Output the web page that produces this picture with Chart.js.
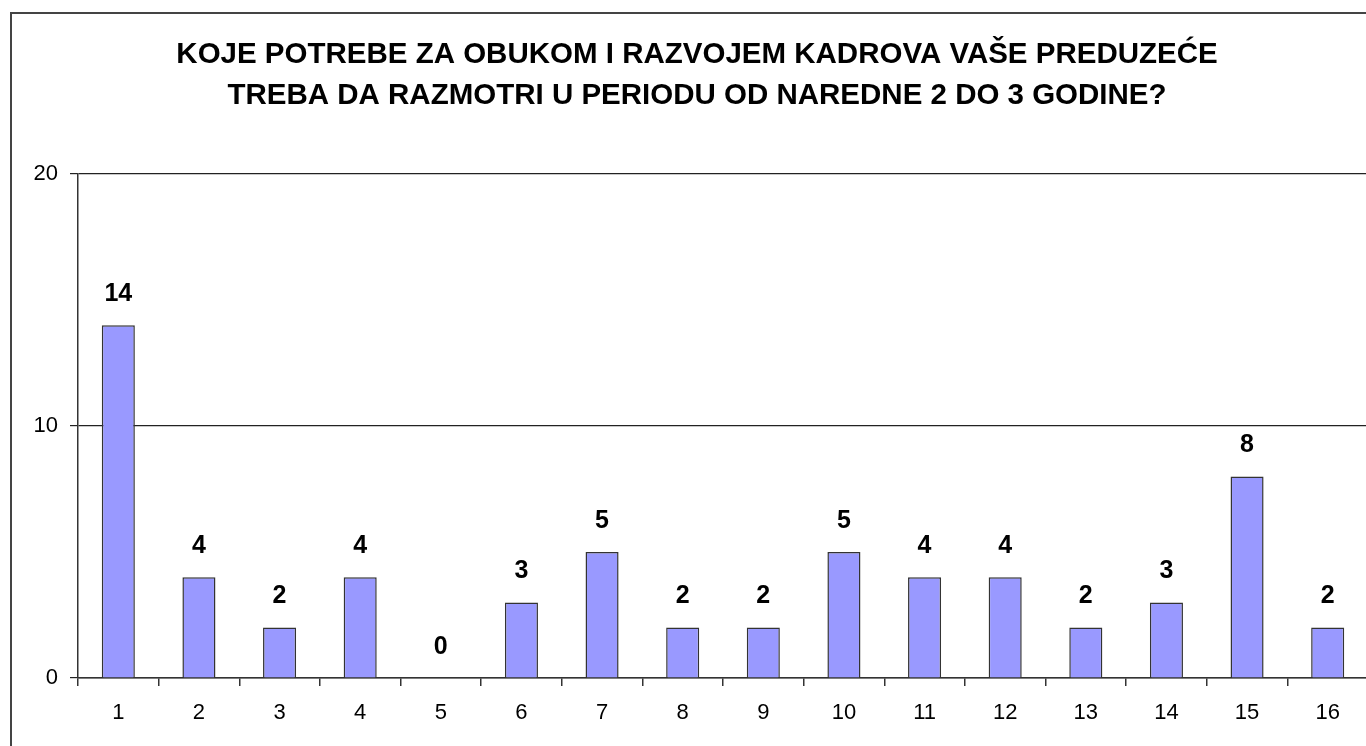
<!DOCTYPE html>
<html>
<head>
<meta charset="utf-8">
<script src="https://cdn.jsdelivr.net/npm/chart.js@4.4.0/dist/chart.umd.min.js"></script>
<style>
  html, body { margin: 0; padding: 0; background: #fff; overflow: hidden; }
  #frame { position: absolute; left: 10px; top: 12px; width: 1500px; height: 900px;
           border-left: 2px solid #444; border-top: 2px solid #444; }
  #wrap { position: absolute; left: 0; top: 0; width: 1394px; height: 746px; }
</style>
</head>
<body>
<div id="frame"></div>
<div id="wrap"><canvas id="myChart" width="1394" height="746"></canvas></div>
<script>
// values
var categories = ['1','2','3','4','5','6','7','8','9','10','11','12','13','14','15','16'];
var answers = [14, 4, 2, 4, 0, 3, 5, 2, 2, 5, 4, 4, 2, 3, 8, 2];
var yTicks = [0, 10, 20];
var titleLines = ['KOJE POTREBE ZA OBUKOM I RAZVOJEM KADROVA VAŠE PREDUZEĆE',
                  'TREBA DA RAZMOTRI U PERIODU OD NAREDNE 2 DO 3 GODINE?'];

// numbers above the bars
var valueLabels = {
  id: 'valueLabels',
  afterDatasetsDraw: function(chart) {
    var ctx = chart.ctx;
    var meta = chart.getDatasetMeta(0);
    ctx.save();
    ctx.font = 'bold 25px "Liberation Sans", Arial, sans-serif';
    ctx.fillStyle = '#000';
    ctx.textAlign = 'center';
    ctx.textBaseline = 'middle';
    meta.data.forEach(function(bar, i) {
      ctx.fillText(String(answers[i]), bar.x, bar.y - 31);
    });
    ctx.restore();
  }
};

var ctx = document.getElementById('myChart').getContext('2d');
myChart = new Chart(ctx, {
  type: 'bar',
  data: {
    labels: categories,
    datasets: [{
      data: answers,
      backgroundColor: '#9999FF',
      borderColor: '#333',
      borderWidth: 1.5,
      barPercentage: 0.41,
      categoryPercentage: 1
    }]
  },
  options: {
    responsive: false,
    animation: false,
    devicePixelRatio: 1,
    layout: { padding: { left: 26, right: 26, top: 0, bottom: 0 } },
    plugins: {
      legend: { display: false },
      tooltip: { enabled: false },
      title: {
        display: true,
        text: titleLines,
        color: '#000',
        font: { family: '"Liberation Sans", Arial, sans-serif', size: 29.5, weight: 'bold', lineHeight: 1.39 },
        padding: { top: 34, bottom: 58 }
      }
    },
    scales: {
      x: {
        grid: { display: true, drawOnChartArea: false, drawTicks: true, tickLength: 8, color: '#333', lineWidth: 1.5, offset: true },
        border: { display: true, color: '#333', width: 1.5 },
        ticks: { color: '#000', padding: 14, font: { family: '"Liberation Sans", Arial, sans-serif', size: 22 } },
        afterFit: function(scale) { scale.height = 68; }
      },
      y: {
        min: 0,
        max: 20,
        afterBuildTicks: function(scale) { scale.ticks = yTicks.map(function(v) { return { value: v }; }); },
        grid: { color: '#222', lineWidth: 1.2, tickLength: 8 },
        border: { display: true, color: '#333', width: 1.5 },
        ticks: { color: '#000', padding: 12, font: { family: '"Liberation Sans", Arial, sans-serif', size: 22 } },
        afterFit: function(scale) { scale.width = 52; }
      }
    }
  },
  plugins: [valueLabels]
});
</script>
</body>
</html>
